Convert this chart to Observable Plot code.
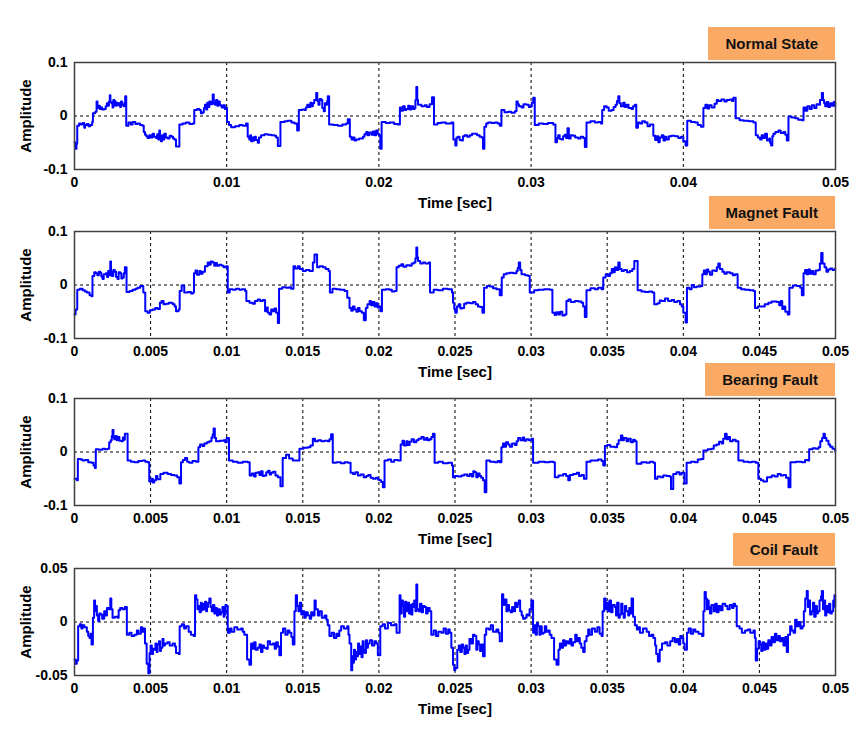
<!DOCTYPE html>
<html><head><meta charset="utf-8">
<script src="https://cdn.jsdelivr.net/npm/d3@7"></script>
<script src="https://cdn.jsdelivr.net/npm/@observablehq/plot@0.6"></script>
<style>
body{margin:0;background:#fff;}
#chart{position:relative;width:864px;height:731px;font-family:"Liberation Sans",Arial,sans-serif;}
.panel{position:absolute;left:0;width:864px;}
.panel svg{overflow:visible;}
.tag{position:absolute;right:29px;top:1px;height:33px;line-height:33px;padding:0 17px;background:#FBAA66;font-weight:bold;font-size:15px;color:#111;white-space:nowrap;}
</style></head><body><div id="chart"></div>
<script>
// time values in milliseconds, amplitude in signal units
const timeUnit = 1000;
const normalState = [[0,-0.049],[0.04,-0.061],[0.13,-0.052],[0.18,-0.018],[0.30,-0.014],[0.42,-0.016],[0.55,-0.013],[0.64,-0.022],[0.70,-0.017],[0.81,-0.015],[0.92,-0.019],[1.03,-0.017],[1.16,-0.011],[1.21,0.005],[1.36,0.008],[1.45,0.027],[1.51,0.015],[1.60,0.019],[1.66,0.013],[1.73,0.016],[1.82,0.012],[1.95,0.013],[2.05,0.018],[2.13,0.024],[2.20,0.019],[2.26,0.027],[2.32,0.039],[2.36,0.026],[2.43,0.024],[2.50,0.016],[2.55,0.030],[2.61,0.028],[2.68,0.019],[2.75,0.025],[2.83,0.020],[2.92,0.024],[3.00,0.017],[3.05,0.027],[3.12,0.021],[3.22,0.018],[3.28,0.025],[3.33,0.037],[3.40,-0.018],[3.55,-0.012],[3.70,-0.016],[3.82,-0.011],[4.00,-0.015],[4.14,-0.014],[4.30,-0.017],[4.47,-0.018],[4.55,-0.030],[4.63,-0.035],[4.72,-0.038],[4.80,-0.041],[4.92,-0.036],[5.02,-0.040],[5.13,-0.033],[5.22,-0.039],[5.35,-0.041],[5.43,-0.034],[5.50,-0.044],[5.57,-0.027],[5.62,-0.040],[5.68,-0.047],[5.75,-0.036],[5.82,-0.044],[5.90,-0.033],[6.00,-0.040],[6.12,-0.042],[6.25,-0.037],[6.38,-0.039],[6.48,-0.042],[6.56,-0.044],[6.67,-0.057],[6.84,-0.057],[6.89,-0.016],[7.10,-0.014],[7.32,-0.012],[7.55,-0.015],[7.76,-0.014],[7.87,0.011],[8.05,0.013],[8.20,0.011],[8.30,0.005],[8.42,0.007],[8.50,0.015],[8.57,0.021],[8.65,0.012],[8.72,0.025],[8.80,0.017],[8.86,0.027],[8.95,0.022],[9.08,0.040],[9.15,0.025],[9.23,0.021],[9.30,0.030],[9.38,0.019],[9.45,0.027],[9.55,0.020],[9.67,0.016],[9.78,0.020],[9.88,0.013],[9.96,0.015],[10.02,-0.011],[10.15,-0.017],[10.29,-0.021],[10.55,-0.019],[10.83,-0.017],[11.05,-0.018],[11.27,-0.014],[11.38,-0.039],[11.48,-0.044],[11.55,-0.036],[11.60,-0.047],[11.70,-0.040],[11.76,-0.046],[11.82,-0.039],[11.92,-0.045],[12.04,-0.050],[12.12,-0.040],[12.26,-0.036],[12.48,-0.034],[12.70,-0.035],[12.92,-0.036],[13.14,-0.037],[13.25,-0.040],[13.36,-0.056],[13.49,-0.056],[13.53,-0.011],[13.80,-0.010],[14.01,-0.009],[14.25,-0.012],[14.45,-0.014],[14.63,-0.027],[14.74,0.011],[14.95,0.012],[15.11,0.011],[15.20,0.016],[15.29,0.021],[15.40,0.017],[15.50,0.025],[15.58,0.018],[15.66,0.024],[15.75,0.030],[15.88,0.043],[15.95,0.028],[16.03,0.021],[16.10,0.032],[16.21,0.030],[16.28,0.015],[16.38,0.009],[16.45,0.024],[16.54,0.021],[16.60,0.028],[16.64,0.037],[16.73,-0.016],[17.00,-0.017],[17.30,-0.018],[17.60,-0.016],[17.85,-0.014],[17.96,-0.006],[18.09,-0.039],[18.20,-0.044],[18.30,-0.040],[18.40,-0.046],[18.51,-0.044],[18.70,-0.042],[18.95,-0.039],[19.05,-0.034],[19.17,-0.030],[19.25,-0.036],[19.35,-0.031],[19.50,-0.035],[19.60,-0.029],[19.70,-0.036],[19.82,-0.027],[19.92,-0.033],[20.00,-0.036],[20.09,-0.061],[20.18,-0.011],[20.45,-0.013],[20.70,-0.012],[21.00,-0.015],[21.25,-0.016],[21.38,0.016],[21.48,0.010],[21.58,0.018],[21.70,0.011],[21.80,0.013],[21.92,0.019],[22.02,0.012],[22.13,0.018],[22.25,0.013],[22.35,0.015],[22.40,0.030],[22.46,0.054],[22.52,0.030],[22.57,0.021],[22.80,0.018],[23.01,0.020],[23.15,0.017],[23.33,0.022],[23.49,0.035],[23.62,-0.016],[23.85,-0.013],[24.10,-0.012],[24.40,-0.014],[24.76,-0.012],[24.89,-0.044],[25.02,-0.055],[25.10,-0.040],[25.20,-0.039],[25.30,-0.045],[25.42,-0.046],[25.52,-0.038],[25.64,-0.036],[25.80,-0.039],[25.96,-0.036],[26.12,-0.033],[26.29,-0.033],[26.45,-0.036],[26.62,-0.039],[26.75,-0.040],[26.84,-0.061],[26.93,-0.020],[27.05,-0.014],[27.17,-0.012],[27.40,-0.013],[27.61,-0.012],[27.80,-0.014],[27.94,-0.018],[28.05,0.011],[28.25,0.007],[28.49,0.008],[28.70,0.006],[28.93,0.009],[29.04,0.027],[29.12,0.022],[29.20,0.018],[29.37,0.016],[29.50,0.022],[29.69,0.021],[29.85,0.017],[29.98,0.018],[30.05,0.025],[30.14,0.034],[30.24,-0.017],[30.50,-0.014],[30.79,-0.015],[31.10,-0.013],[31.45,-0.016],[31.60,-0.049],[31.70,-0.041],[31.78,-0.036],[31.88,-0.043],[32.00,-0.044],[32.10,-0.038],[32.21,-0.035],[32.30,-0.041],[32.39,-0.023],[32.48,-0.042],[32.60,-0.036],[32.76,-0.037],[32.90,-0.040],[33.09,-0.042],[33.25,-0.039],[33.42,-0.041],[33.53,-0.058],[33.64,-0.012],[33.90,-0.010],[34.19,-0.012],[34.40,-0.011],[34.58,-0.014],[34.67,0.011],[34.80,0.018],[34.96,0.016],[35.10,0.010],[35.29,0.011],[35.42,0.017],[35.55,0.021],[35.64,0.028],[35.73,0.037],[35.80,0.024],[35.90,0.018],[36.05,0.025],[36.15,0.017],[36.27,0.021],[36.40,0.015],[36.60,0.013],[36.70,0.018],[36.82,0.021],[36.91,-0.022],[37.02,-0.012],[37.15,-0.014],[37.30,-0.010],[37.48,-0.012],[37.65,-0.019],[37.81,-0.016],[38.03,-0.037],[38.15,-0.045],[38.25,-0.038],[38.36,-0.049],[38.45,-0.040],[38.58,-0.036],[38.70,-0.046],[38.80,-0.039],[38.90,-0.044],[39.05,-0.038],[39.23,-0.037],[39.45,-0.038],[39.67,-0.041],[39.85,-0.039],[40.00,-0.047],[40.15,-0.055],[40.26,-0.009],[40.50,-0.011],[40.77,-0.012],[40.95,-0.017],[41.16,-0.020],[41.32,0.015],[41.45,0.021],[41.58,0.014],[41.70,0.020],[41.86,0.016],[42.05,0.023],[42.20,0.030],[42.30,0.028],[42.50,0.031],[42.70,0.027],[42.85,0.030],[43.05,0.031],[43.20,0.028],[43.29,0.034],[43.44,-0.004],[43.70,-0.008],[43.95,-0.009],[44.30,-0.010],[44.61,-0.012],[44.76,-0.036],[44.90,-0.040],[45.04,-0.044],[45.15,-0.036],[45.25,-0.041],[45.37,-0.033],[45.50,-0.046],[45.64,-0.042],[45.70,-0.050],[45.77,-0.055],[45.85,-0.038],[45.92,-0.033],[46.05,-0.030],[46.25,-0.027],[46.40,-0.032],[46.58,-0.030],[46.70,-0.035],[46.80,-0.046],[46.91,-0.001],[47.10,-0.003],[47.35,-0.004],[47.55,-0.007],[47.79,-0.008],[47.90,0.016],[48.02,0.010],[48.15,0.018],[48.30,0.013],[48.44,0.020],[48.60,0.015],[48.75,0.022],[48.88,0.021],[48.98,0.030],[49.10,0.043],[49.18,0.030],[49.25,0.024],[49.32,0.018],[49.42,0.026],[49.52,0.017],[49.65,0.024],[49.78,0.019],[49.88,0.026],[49.98,0.018]];
const magnetFault = [[0,-0.055],[0.07,-0.046],[0.18,-0.009],[0.35,-0.007],[0.53,-0.010],[0.68,-0.012],[0.81,-0.014],[0.99,-0.019],[1.12,-0.021],[1.18,0.017],[1.30,0.024],[1.40,0.022],[1.50,0.018],[1.60,0.025],[1.69,0.023],[1.76,0.016],[1.84,0.011],[1.92,0.020],[2.06,0.022],[2.14,0.015],[2.21,0.026],[2.28,0.018],[2.35,0.044],[2.40,0.025],[2.46,0.017],[2.55,0.028],[2.65,0.025],[2.73,0.015],[2.83,0.011],[2.90,0.024],[3.00,0.022],[3.08,0.012],[3.16,0.014],[3.24,0.022],[3.31,0.033],[3.42,-0.013],[3.62,-0.011],[3.82,-0.009],[4.00,-0.007],[4.14,-0.005],[4.32,-0.002],[4.52,-0.014],[4.65,-0.049],[4.80,-0.052],[4.95,-0.047],[5.13,-0.046],[5.30,-0.043],[5.46,-0.045],[5.61,-0.033],[5.72,-0.030],[5.85,-0.036],[6.01,-0.035],[6.20,-0.033],[6.45,-0.036],[6.58,-0.040],[6.67,-0.049],[6.84,-0.046],[6.91,-0.011],[7.04,-0.001],[7.21,-0.014],[7.45,-0.013],[7.65,-0.016],[7.79,-0.014],[7.85,0.022],[7.95,0.027],[8.05,0.019],[8.20,0.026],[8.30,0.021],[8.42,0.025],[8.57,0.035],[8.75,0.042],[8.85,0.038],[8.95,0.044],[9.08,0.042],[9.18,0.036],[9.25,0.041],[9.36,0.036],[9.50,0.038],[9.67,0.036],[9.80,0.033],[9.96,0.035],[10.07,-0.014],[10.20,-0.008],[10.39,-0.009],[10.60,-0.007],[10.83,-0.009],[11.00,-0.008],[11.21,-0.011],[11.29,-0.030],[11.50,-0.033],[11.71,-0.035],[11.85,-0.030],[12.04,-0.027],[12.20,-0.030],[12.37,-0.028],[12.52,-0.049],[12.62,-0.042],[12.70,-0.052],[12.81,-0.055],[12.92,-0.046],[13.03,-0.049],[13.14,-0.044],[13.25,-0.052],[13.36,-0.071],[13.44,-0.007],[13.65,-0.004],[13.90,-0.005],[14.10,-0.004],[14.23,-0.007],[14.39,0.035],[14.50,0.031],[14.67,0.035],[14.80,0.030],[15.00,0.026],[15.20,0.028],[15.44,0.026],[15.66,0.042],[15.77,0.057],[15.94,0.033],[16.10,0.035],[16.32,0.033],[16.50,0.030],[16.69,0.026],[16.78,-0.014],[16.95,-0.007],[17.19,-0.008],[17.45,-0.009],[17.74,-0.011],[17.92,-0.024],[18.07,-0.043],[18.18,-0.048],[18.28,-0.040],[18.40,-0.046],[18.52,-0.050],[18.62,-0.043],[18.73,-0.049],[18.88,-0.052],[19.01,-0.066],[19.14,-0.043],[19.25,-0.036],[19.39,-0.030],[19.48,-0.038],[19.58,-0.032],[19.71,-0.040],[19.82,-0.034],[19.92,-0.042],[20.04,-0.040],[20.11,-0.049],[20.20,-0.009],[20.45,-0.008],[20.70,-0.009],[20.85,-0.012],[21.03,-0.011],[21.16,0.033],[21.30,0.036],[21.47,0.039],[21.60,0.034],[21.80,0.037],[22.02,0.036],[22.15,0.040],[22.30,0.042],[22.40,0.050],[22.46,0.070],[22.52,0.052],[22.57,0.045],[22.72,0.040],[22.89,0.042],[23.05,0.040],[23.27,0.042],[23.36,-0.014],[23.60,-0.009],[23.88,-0.010],[24.20,-0.007],[24.54,-0.008],[24.80,-0.014],[24.87,-0.033],[24.95,-0.045],[25.02,-0.052],[25.12,-0.040],[25.24,-0.036],[25.35,-0.044],[25.46,-0.043],[25.60,-0.035],[25.75,-0.033],[26.00,-0.034],[26.18,-0.032],[26.35,-0.036],[26.51,-0.040],[26.65,-0.041],[26.80,-0.052],[26.91,-0.005],[27.10,-0.002],[27.28,-0.003],[27.50,-0.006],[27.72,-0.008],[27.94,-0.019],[28.07,0.014],[28.20,0.020],[28.38,0.022],[28.60,0.023],[28.82,0.022],[29.04,0.026],[29.12,0.032],[29.19,0.042],[29.28,0.028],[29.37,0.020],[29.60,0.018],[29.80,0.017],[29.91,-0.014],[30.20,-0.010],[30.46,-0.009],[30.85,-0.008],[31.23,-0.009],[31.40,-0.052],[31.55,-0.056],[31.65,-0.051],[31.78,-0.055],[31.90,-0.050],[32.05,-0.057],[32.21,-0.055],[32.32,-0.030],[32.45,-0.027],[32.60,-0.032],[32.87,-0.030],[33.10,-0.031],[33.31,-0.033],[33.42,-0.040],[33.53,-0.060],[33.64,-0.010],[33.90,-0.006],[34.19,-0.008],[34.40,-0.005],[34.63,-0.008],[34.74,0.014],[34.90,0.020],[35.05,0.017],[35.18,0.022],[35.30,0.030],[35.40,0.024],[35.50,0.033],[35.60,0.028],[35.73,0.042],[35.82,0.030],[35.95,0.026],[36.10,0.028],[36.30,0.024],[36.49,0.026],[36.65,0.030],[36.78,0.045],[37.00,-0.010],[37.25,-0.012],[37.48,-0.013],[37.75,-0.012],[37.96,-0.014],[38.09,-0.036],[38.30,-0.034],[38.45,-0.029],[38.58,-0.030],[38.80,-0.025],[39.00,-0.030],[39.23,-0.028],[39.40,-0.032],[39.60,-0.030],[39.78,-0.036],[39.90,-0.040],[40.00,-0.052],[40.15,-0.070],[40.24,-0.005],[40.40,-0.008],[40.55,0.000],[40.70,-0.004],[40.88,-0.003],[41.16,-0.002],[41.25,0.020],[41.35,0.027],[41.45,0.020],[41.55,0.029],[41.64,0.025],[41.75,0.019],[41.90,0.027],[42.08,0.026],[42.20,0.033],[42.30,0.040],[42.40,0.030],[42.57,0.025],[42.70,0.021],[42.85,0.024],[43.07,0.022],[43.25,0.018],[43.40,0.020],[43.57,-0.005],[43.80,-0.008],[44.06,-0.009],[44.35,-0.010],[44.61,-0.011],[44.71,-0.043],[44.90,-0.040],[45.15,-0.040],[45.35,-0.036],[45.59,-0.033],[45.80,-0.031],[46.14,-0.032],[46.30,-0.038],[46.40,-0.030],[46.50,-0.045],[46.58,-0.040],[46.70,-0.050],[46.86,-0.055],[46.97,-0.005],[47.20,-0.001],[47.46,-0.002],[47.68,-0.005],[47.79,-0.019],[47.90,0.022],[48.00,0.028],[48.10,0.020],[48.22,0.029],[48.32,0.021],[48.44,0.026],[48.55,0.020],[48.70,0.027],[48.88,0.028],[48.97,0.040],[49.06,0.060],[49.15,0.040],[49.28,0.033],[49.40,0.025],[49.52,0.029],[49.65,0.031],[49.80,0.028],[49.98,0.031]];
const bearingFault = [[0,-0.050],[0.15,-0.053],[0.22,-0.013],[0.40,-0.014],[0.53,-0.016],[0.70,-0.015],[0.90,-0.019],[1.10,-0.020],[1.25,-0.025],[1.34,-0.030],[1.40,0.005],[1.60,0.004],[1.84,0.006],[2.00,0.005],[2.17,0.006],[2.28,0.018],[2.38,0.022],[2.45,0.030],[2.50,0.041],[2.56,0.028],[2.61,0.024],[2.70,0.030],[2.78,0.022],[2.87,0.028],[2.95,0.021],[3.09,0.020],[3.18,0.027],[3.25,0.023],[3.31,0.034],[3.49,-0.016],[3.70,-0.018],[3.93,-0.019],[4.20,-0.017],[4.47,-0.016],[4.65,-0.018],[4.80,-0.019],[4.91,-0.055],[5.05,-0.050],[5.15,-0.057],[5.24,-0.053],[5.35,-0.045],[5.45,-0.051],[5.64,-0.041],[5.85,-0.039],[6.12,-0.041],[6.35,-0.043],[6.56,-0.044],[6.75,-0.047],[6.89,-0.059],[7.00,-0.019],[7.12,-0.015],[7.26,-0.011],[7.40,-0.018],[7.54,-0.020],[7.75,-0.017],[7.98,-0.018],[8.14,0.009],[8.25,0.014],[8.40,0.011],[8.53,0.016],[8.70,0.018],[8.86,0.020],[9.00,0.027],[9.08,0.033],[9.14,0.044],[9.22,0.026],[9.30,0.020],[9.55,0.021],[9.80,0.022],[9.90,0.018],[10.00,0.026],[10.15,-0.016],[10.40,-0.018],[10.72,-0.020],[11.05,-0.018],[11.38,-0.019],[11.51,-0.044],[11.65,-0.040],[11.80,-0.046],[11.90,-0.039],[12.04,-0.038],[12.15,-0.043],[12.25,-0.036],[12.36,-0.045],[12.48,-0.044],[12.60,-0.038],[12.72,-0.035],[12.82,-0.042],[12.92,-0.039],[13.05,-0.037],[13.20,-0.044],[13.36,-0.047],[13.53,-0.064],[13.68,-0.011],[13.90,-0.005],[14.10,-0.012],[14.34,-0.016],[14.63,-0.016],[14.78,0.006],[15.05,0.008],[15.33,0.009],[15.50,0.012],[15.66,0.025],[15.80,0.020],[16.00,0.022],[16.21,0.020],[16.40,0.021],[16.64,0.020],[16.75,0.024],[16.86,0.033],[16.97,-0.020],[17.20,-0.019],[17.50,-0.021],[17.75,-0.019],[17.96,-0.020],[18.14,-0.039],[18.30,-0.041],[18.45,-0.038],[18.62,-0.044],[18.80,-0.042],[19.00,-0.047],[19.17,-0.045],[19.30,-0.043],[19.45,-0.048],[19.61,-0.050],[19.80,-0.048],[19.95,-0.052],[20.04,-0.053],[20.15,-0.056],[20.26,-0.066],[20.37,-0.016],[20.60,-0.014],[20.80,-0.018],[21.00,-0.015],[21.25,-0.016],[21.43,0.014],[21.55,0.021],[21.65,0.012],[21.80,0.020],[21.90,0.013],[22.02,0.019],[22.15,0.024],[22.30,0.018],[22.46,0.022],[22.60,0.025],[22.79,0.028],[22.95,0.023],[23.10,0.026],[23.20,0.022],[23.33,0.024],[23.45,0.028],[23.55,0.034],[23.66,-0.020],[23.90,-0.018],[24.20,-0.021],[24.54,-0.020],[24.80,-0.025],[24.87,-0.047],[25.00,-0.045],[25.20,-0.046],[25.42,-0.044],[25.60,-0.042],[25.80,-0.045],[25.96,-0.041],[26.10,-0.046],[26.20,-0.036],[26.29,-0.038],[26.40,-0.047],[26.50,-0.040],[26.62,-0.045],[26.72,-0.048],[26.84,-0.053],[26.95,-0.075],[27.06,-0.016],[27.30,-0.018],[27.61,-0.019],[27.80,-0.017],[27.94,-0.019],[28.05,0.009],[28.15,0.016],[28.25,0.010],[28.35,0.018],[28.49,0.014],[28.60,0.010],[28.75,0.016],[28.93,0.013],[29.05,0.020],[29.15,0.026],[29.30,0.022],[29.45,0.027],[29.55,0.021],[29.69,0.024],[29.85,0.022],[30.02,0.025],[30.13,-0.020],[30.50,-0.018],[30.90,-0.019],[31.20,-0.018],[31.45,-0.019],[31.56,-0.047],[31.80,-0.044],[32.11,-0.041],[32.30,-0.045],[32.44,-0.053],[32.55,-0.043],[32.76,-0.041],[33.00,-0.039],[33.15,-0.045],[33.31,-0.043],[33.47,-0.050],[33.64,-0.018],[33.90,-0.016],[34.19,-0.016],[34.40,-0.014],[34.63,-0.017],[34.74,-0.025],[34.85,0.011],[35.00,0.013],[35.20,0.010],[35.50,0.009],[35.65,0.015],[35.75,0.022],[35.90,0.031],[36.00,0.022],[36.10,0.026],[36.27,0.020],[36.40,0.025],[36.55,0.018],[36.70,0.023],[36.82,0.020],[36.93,-0.022],[37.25,-0.019],[37.59,-0.020],[37.80,-0.018],[38.03,-0.020],[38.14,-0.050],[38.30,-0.046],[38.50,-0.047],[38.68,-0.044],[38.90,-0.045],[39.10,-0.046],[39.19,-0.069],[39.34,-0.041],[39.55,-0.038],[39.75,-0.042],[39.89,-0.039],[40.07,-0.059],[40.22,-0.020],[40.50,-0.018],[40.77,-0.019],[40.95,-0.014],[41.16,-0.013],[41.32,0.003],[41.60,0.005],[41.86,0.006],[42.00,0.012],[42.19,0.014],[42.35,0.019],[42.52,0.016],[42.62,0.025],[42.74,0.034],[42.85,0.024],[42.95,0.028],[43.07,0.020],[43.25,0.023],[43.44,0.020],[43.62,-0.016],[43.95,-0.018],[44.28,-0.019],[44.50,-0.018],[44.76,-0.020],[44.93,-0.050],[45.10,-0.053],[45.26,-0.055],[45.50,-0.047],[45.81,-0.044],[46.00,-0.046],[46.20,-0.041],[46.40,-0.044],[46.58,-0.043],[46.75,-0.048],[46.91,-0.066],[47.04,-0.019],[47.40,-0.018],[47.79,-0.019],[48.00,-0.015],[48.18,-0.016],[48.27,0.005],[48.50,0.007],[48.70,0.006],[48.88,0.009],[49.00,0.020],[49.12,0.026],[49.21,0.034],[49.30,0.026],[49.40,0.021],[49.54,0.014],[49.65,0.010],[49.80,0.006],[49.98,0.001]];
const coilFault = [[0,-0.035],[0.08,-0.039],[0.15,-0.036],[0.24,-0.004],[0.35,-0.002],[0.45,-0.006],[0.53,-0.003],[0.65,-0.005],[0.81,-0.009],[0.90,-0.013],[0.99,-0.015],[1.05,-0.011],[1.12,-0.021],[1.21,0.004],[1.29,0.020],[1.35,0.010],[1.40,0.015],[1.47,0.006],[1.55,0.001],[1.63,0.008],[1.73,0.007],[1.82,0.003],[1.95,0.010],[2.05,0.006],[2.13,0.013],[2.25,0.012],[2.35,0.022],[2.42,0.012],[2.50,0.004],[2.65,0.005],[2.83,0.004],[2.90,0.011],[3.00,0.013],[3.15,0.012],[3.31,0.014],[3.44,-0.012],[3.60,-0.010],[3.75,-0.013],[3.93,-0.012],[4.10,-0.008],[4.20,-0.011],[4.36,-0.005],[4.45,-0.009],[4.54,-0.006],[4.63,-0.020],[4.74,-0.039],[4.85,-0.048],[4.93,-0.029],[5.00,-0.022],[5.08,-0.030],[5.16,-0.025],[5.24,-0.026],[5.32,-0.020],[5.40,-0.028],[5.46,-0.021],[5.55,-0.018],[5.62,-0.027],[5.68,-0.024],[5.78,-0.016],[5.85,-0.022],[5.94,-0.020],[6.10,-0.019],[6.25,-0.022],[6.45,-0.020],[6.60,-0.023],[6.67,-0.029],[6.84,-0.030],[6.91,-0.004],[7.05,-0.002],[7.20,-0.006],[7.32,-0.004],[7.50,-0.009],[7.65,-0.012],[7.83,-0.013],[7.92,0.025],[8.00,0.021],[8.08,0.012],[8.14,0.015],[8.22,0.009],[8.30,0.018],[8.36,0.011],[8.42,0.017],[8.50,0.012],[8.58,0.019],[8.65,0.010],[8.71,0.014],[8.78,0.018],[8.86,0.022],[8.94,0.014],[9.02,0.010],[9.10,0.016],[9.19,0.008],[9.28,0.013],[9.36,0.006],[9.45,0.012],[9.55,0.007],[9.63,0.009],[9.72,0.014],[9.80,0.005],[9.85,0.007],[9.92,0.016],[9.98,0.015],[10.07,-0.010],[10.20,-0.006],[10.32,-0.009],[10.50,-0.005],[10.70,-0.007],[10.94,-0.006],[11.05,-0.009],[11.16,-0.012],[11.34,-0.035],[11.49,-0.040],[11.60,-0.020],[11.70,-0.025],[11.80,-0.019],[11.90,-0.026],[12.04,-0.024],[12.15,-0.021],[12.25,-0.028],[12.35,-0.022],[12.45,-0.024],[12.59,-0.025],[12.70,-0.018],[12.85,-0.021],[13.03,-0.020],[13.15,-0.025],[13.25,-0.019],[13.36,-0.023],[13.46,-0.031],[13.57,-0.010],[13.70,-0.006],[13.85,-0.012],[14.00,-0.008],[14.12,-0.010],[14.25,-0.014],[14.34,-0.021],[14.45,0.010],[14.54,0.025],[14.62,0.015],[14.71,0.010],[14.80,0.018],[14.90,0.007],[15.00,0.010],[15.10,0.004],[15.20,0.009],[15.33,0.006],[15.45,0.003],[15.55,0.009],[15.66,0.006],[15.77,0.020],[15.85,0.012],[15.99,0.006],[16.10,0.010],[16.25,0.004],[16.43,0.006],[16.55,0.002],[16.64,-0.003],[16.75,-0.013],[16.90,-0.010],[17.05,-0.015],[17.20,-0.011],[17.30,-0.013],[17.40,-0.008],[17.52,-0.004],[17.70,-0.006],[17.92,-0.004],[18.00,-0.012],[18.07,-0.020],[18.18,-0.045],[18.25,-0.032],[18.30,-0.038],[18.36,-0.026],[18.43,-0.035],[18.50,-0.028],[18.57,-0.032],[18.63,-0.020],[18.70,-0.030],[18.79,-0.023],[18.86,-0.033],[18.93,-0.018],[19.00,-0.026],[19.06,-0.029],[19.15,-0.017],[19.22,-0.024],[19.28,-0.020],[19.40,-0.017],[19.55,-0.022],[19.70,-0.018],[19.82,-0.020],[19.93,-0.031],[20.09,-0.004],[20.25,-0.002],[20.40,-0.006],[20.59,-0.001],[20.80,-0.003],[21.03,-0.002],[21.16,-0.010],[21.36,0.025],[21.42,0.008],[21.50,0.020],[21.58,0.015],[21.65,0.005],[21.72,0.019],[21.80,0.010],[21.91,0.018],[21.98,0.008],[22.05,0.016],[22.12,0.007],[22.20,0.017],[22.24,0.014],[22.32,0.020],[22.40,0.010],[22.46,0.035],[22.52,0.012],[22.61,0.010],[22.70,0.017],[22.80,0.009],[22.90,0.015],[23.00,0.014],[23.10,0.008],[23.20,0.013],[23.33,0.010],[23.44,-0.012],[23.60,-0.008],[23.75,-0.013],[23.90,-0.009],[24.10,-0.010],[24.25,-0.006],[24.40,-0.011],[24.55,-0.007],[24.65,-0.010],[24.76,-0.024],[24.87,-0.040],[24.95,-0.045],[25.02,-0.043],[25.15,-0.026],[25.25,-0.022],[25.35,-0.028],[25.45,-0.021],[25.53,-0.024],[25.62,-0.030],[25.70,-0.022],[25.78,-0.029],[25.86,-0.026],[25.95,-0.016],[26.07,-0.020],[26.18,-0.012],[26.29,-0.013],[26.40,-0.026],[26.48,-0.018],[26.56,-0.021],[26.65,-0.027],[26.73,-0.021],[26.84,-0.032],[26.95,-0.012],[27.05,-0.006],[27.21,-0.007],[27.35,-0.003],[27.50,-0.009],[27.72,-0.007],[27.85,-0.010],[27.94,-0.018],[28.09,0.026],[28.17,0.016],[28.25,0.021],[28.38,0.010],[28.47,0.016],[28.55,0.011],[28.65,0.009],[28.75,0.014],[28.82,0.010],[28.95,0.018],[29.05,0.014],[29.12,0.017],[29.19,0.020],[29.28,0.010],[29.38,0.006],[29.47,0.003],[29.60,0.004],[29.70,0.007],[29.80,0.006],[29.90,0.012],[30.02,0.020],[30.13,-0.010],[30.22,-0.003],[30.30,-0.012],[30.38,-0.001],[30.46,-0.004],[30.55,-0.012],[30.62,-0.004],[30.70,-0.011],[30.79,-0.010],[30.90,-0.004],[31.00,-0.009],[31.12,-0.008],[31.22,-0.012],[31.34,-0.015],[31.51,-0.035],[31.67,-0.040],[31.80,-0.026],[31.89,-0.020],[32.00,-0.024],[32.10,-0.017],[32.20,-0.022],[32.30,-0.018],[32.43,-0.020],[32.55,-0.016],[32.65,-0.022],[32.76,-0.019],[32.90,-0.012],[33.00,-0.018],[33.09,-0.015],[33.20,-0.020],[33.30,-0.024],[33.42,-0.028],[33.52,-0.018],[33.64,-0.013],[33.75,-0.007],[33.85,-0.012],[34.00,-0.006],[34.19,-0.009],[34.35,-0.005],[34.50,-0.011],[34.63,-0.013],[34.70,0.010],[34.80,0.022],[34.90,0.012],[35.00,0.018],[35.07,0.010],[35.15,0.020],[35.25,0.009],[35.35,0.016],[35.50,0.014],[35.58,0.006],[35.65,0.018],[35.75,0.004],[35.83,0.007],[35.92,0.017],[36.00,0.008],[36.08,0.004],[36.16,0.015],[36.25,0.010],[36.38,0.006],[36.45,0.013],[36.52,0.008],[36.60,0.022],[36.70,0.005],[36.82,-0.003],[36.95,-0.007],[37.05,-0.005],[37.15,-0.010],[37.35,-0.006],[37.59,-0.009],[37.75,-0.013],[37.90,-0.012],[38.03,-0.015],[38.15,-0.022],[38.22,-0.030],[38.33,-0.037],[38.45,-0.026],[38.60,-0.020],[38.80,-0.019],[38.95,-0.022],[39.14,-0.018],[39.30,-0.015],[39.45,-0.019],[39.58,-0.016],[39.70,-0.021],[39.80,-0.013],[39.91,-0.015],[40.00,-0.020],[40.09,-0.026],[40.24,-0.010],[40.35,-0.006],[40.50,-0.011],[40.65,-0.007],[40.79,-0.009],[41.00,-0.011],[41.23,-0.013],[41.32,0.010],[41.40,0.028],[41.48,0.022],[41.55,0.012],[41.62,0.020],[41.67,0.014],[41.75,0.008],[41.85,0.016],[42.00,0.010],[42.10,0.017],[42.20,0.009],[42.32,0.015],[42.45,0.011],[42.58,0.017],[42.76,0.015],[42.90,0.012],[43.05,0.016],[43.20,0.013],[43.30,0.017],[43.40,0.015],[43.51,-0.004],[43.70,-0.006],[43.85,-0.010],[44.06,-0.008],[44.25,-0.007],[44.40,-0.010],[44.61,-0.008],[44.70,-0.015],[44.76,-0.036],[44.85,-0.025],[44.95,-0.018],[45.04,-0.021],[45.12,-0.027],[45.20,-0.019],[45.30,-0.026],[45.40,-0.020],[45.48,-0.025],[45.58,-0.017],[45.70,-0.022],[45.80,-0.014],[45.92,-0.019],[46.02,-0.011],[46.12,-0.017],[46.25,-0.013],[46.35,-0.018],[46.47,-0.015],[46.58,-0.022],[46.70,-0.014],[46.80,-0.028],[46.88,-0.012],[47.02,-0.004],[47.12,-0.008],[47.24,-0.010],[47.35,0.002],[47.45,-0.004],[47.57,0.000],[47.70,-0.006],[47.83,-0.004],[47.92,0.010],[48.01,0.022],[48.11,0.029],[48.18,0.014],[48.25,0.020],[48.33,0.007],[48.44,0.010],[48.52,0.018],[48.60,0.005],[48.70,0.015],[48.78,0.008],[48.84,0.010],[48.95,0.020],[49.05,0.024],[49.10,0.029],[49.18,0.012],[49.25,0.020],[49.32,0.006],[49.40,0.015],[49.48,0.009],[49.58,0.017],[49.66,0.008],[49.76,0.010],[49.85,0.020],[49.93,0.025],[49.98,0.014]];

const panelTitles = ["Normal State", "Magnet Fault", "Bearing Fault", "Coil Fault"];
const xTicksCoarse = [0, 0.01, 0.02, 0.03, 0.04, 0.05];
const xTicksFine = [0, 0.005, 0.01, 0.015, 0.02, 0.025, 0.03, 0.035, 0.04, 0.045, 0.05];
const yTicksWide = [-0.1, 0, 0.1];
const yTicksNarrow = [-0.05, 0, 0.05];
const xLabel = "Time [sec]";
const yLabel = "Amplitude";

const panels = [
  {title: panelTitles[0], data: normalState, xt: xTicksCoarse, yt: yTicksWide, top: 26},
  {title: panelTitles[1], data: magnetFault, xt: xTicksFine, yt: yTicksWide, top: 195},
  {title: panelTitles[2], data: bearingFault, xt: xTicksFine, yt: yTicksWide, top: 362},
  {title: panelTitles[3], data: coilFault, xt: xTicksFine, yt: yTicksNarrow, top: 532}
];

const root = document.getElementById("chart");
const mt = 36, fh = 107, mb = 45;
for (const p of panels) {
  const div = document.createElement("div");
  div.className = "panel";
  div.style.top = p.top + "px";
  const svg = Plot.plot({
    width: 864, height: mt + fh + mb,
    marginLeft: 74, marginRight: 29, marginTop: mt, marginBottom: mb,
    style: {background: "transparent", fontFamily: '"Liberation Sans", Arial, sans-serif', fontSize: "14px", fontWeight: "bold", color: "#000", overflow: "visible"},
    x: {domain: [0, 0.05]},
    y: {domain: [p.yt[0], p.yt[p.yt.length - 1]]},
    marks: [
      Plot.ruleX(p.xt.slice(1, -1), {stroke: "#000", strokeWidth: 1, strokeDasharray: "3,3"}),
      Plot.ruleY([0], {stroke: "#000", strokeWidth: 1, strokeDasharray: "3,3"}),
      Plot.line(p.data, {x: d => d[0] / timeUnit, y: d => d[1], curve: "step-after", stroke: "#0000ff", strokeWidth: 2}),
      Plot.frame({stroke: "#404040", strokeWidth: 1.5}),
      Plot.axisX({ticks: p.xt, tickSize: 0, tickPadding: 8, tickFormat: d => String(d), label: null}),
      Plot.axisY({ticks: p.yt, tickSize: 0, tickPadding: 7, tickFormat: d => String(d), label: null}),
      Plot.text([xLabel], {frameAnchor: "bottom", dy: 34, lineAnchor: "middle", textAnchor: "middle", text: d => d, fontSize: 15}),
      Plot.text([yLabel], {frameAnchor: "left", dx: -48, rotate: -90, lineAnchor: "middle", textAnchor: "middle", text: d => d, fontSize: 15})
    ]
  });
  div.appendChild(svg);
  const tag = document.createElement("div");
  tag.className = "tag";
  tag.textContent = p.title;
  div.appendChild(tag);
  root.appendChild(div);
}
</script></body></html>
